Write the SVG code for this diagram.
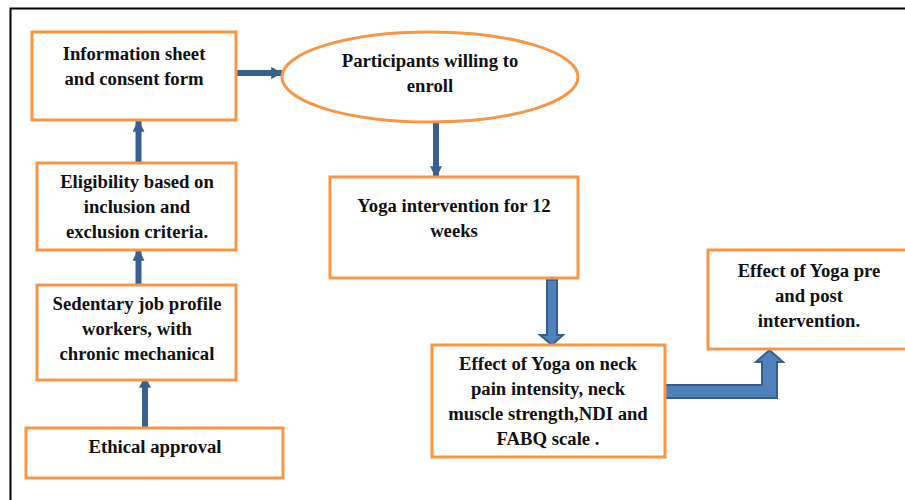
<svg xmlns="http://www.w3.org/2000/svg" width="905" height="500" viewBox="0 0 905 500">
<style>
.box{fill:#fff;stroke:#f79646;stroke-width:3}
.t{font-family:"Liberation Serif","Times New Roman",serif;font-weight:bold;font-size:18.7px;fill:#111;text-anchor:middle}
.ln{stroke:#3b5f8f;stroke-width:6;fill:none}
.blk{fill:#4f81bd;stroke:#385d8a;stroke-width:2;stroke-linejoin:miter}
</style>
<defs>
<marker id="ah" viewBox="0 0 10 10" refX="9" refY="5" markerWidth="2" markerHeight="2" orient="auto" markerUnits="strokeWidth">
<path d="M0,0 L10,5 L0,10 Z" fill="#3b5f8f"/>
</marker>
</defs>
<rect width="905" height="500" fill="#fff"/>
<path d="M10.5,500 V8.5 H905" fill="none" stroke="#000" stroke-width="2"/>

<g id="connectors">
<line class="ln" x1="236" y1="73" x2="282" y2="73" marker-end="url(#ah)"/>
<line class="ln" x1="436" y1="122" x2="436" y2="177" marker-end="url(#ah)"/>
<line class="ln" x1="138.5" y1="163" x2="138.5" y2="121" marker-end="url(#ah)"/>
<line class="ln" x1="138.5" y1="285" x2="138.5" y2="250" marker-end="url(#ah)"/>
<line class="ln" x1="145" y1="428" x2="145" y2="377" marker-end="url(#ah)"/>
<path class="blk" d="M547,280 H557 V335 H563 L552,345 L540,335 H547 Z"/>
<path class="blk" d="M664,385 H762 V362 H756 L769.5,350 L783,362 H777 V398 H664 Z"/>
</g>

<g id="info">
<rect class="box" x="32" y="32" width="204" height="88"/>
<text class="t" x="134" y="60">Information sheet</text>
<text class="t" x="134" y="85">and consent form</text>
</g>
<g id="eligibility">
<rect class="box" x="37" y="163" width="199" height="87"/>
<text class="t" x="137" y="188">Eligibility based on</text>
<text class="t" x="137" y="213">inclusion and</text>
<text class="t" x="137" y="238">exclusion criteria.</text>
</g>
<g id="sedentary">
<rect class="box" x="37" y="285" width="199" height="95"/>
<text class="t" x="137" y="310">Sedentary job profile</text>
<text class="t" x="137" y="335">workers, with</text>
<text class="t" x="137" y="360">chronic mechanical</text>
</g>
<g id="ethical">
<rect class="box" x="26" y="428" width="257" height="50"/>
<text class="t" x="155" y="453">Ethical approval</text>
</g>
<g id="participants">
<ellipse class="box" cx="430" cy="77" rx="148" ry="45"/>
<text class="t" x="430" y="67">Participants willing to</text>
<text class="t" x="430" y="92">enroll</text>
</g>
<g id="yoga">
<rect class="box" x="330" y="177" width="248" height="101"/>
<text class="t" x="454" y="212">Yoga intervention for 12</text>
<text class="t" x="454" y="237">weeks</text>
</g>
<g id="effect-neck">
<rect class="box" x="432" y="345" width="233" height="112"/>
<text class="t" x="548" y="370">Effect of Yoga on neck</text>
<text class="t" x="548" y="395">pain intensity, neck</text>
<text class="t" x="548" y="420">muscle strength,NDI and</text>
<text class="t" x="548" y="445">FABQ scale .</text>
</g>
<g id="effect-pre">
<rect class="box" x="708" y="250" width="210" height="99"/>
<text class="t" x="809" y="277">Effect of Yoga pre</text>
<text class="t" x="809" y="302">and post</text>
<text class="t" x="809" y="327">intervention.</text>
</g>
</svg>
